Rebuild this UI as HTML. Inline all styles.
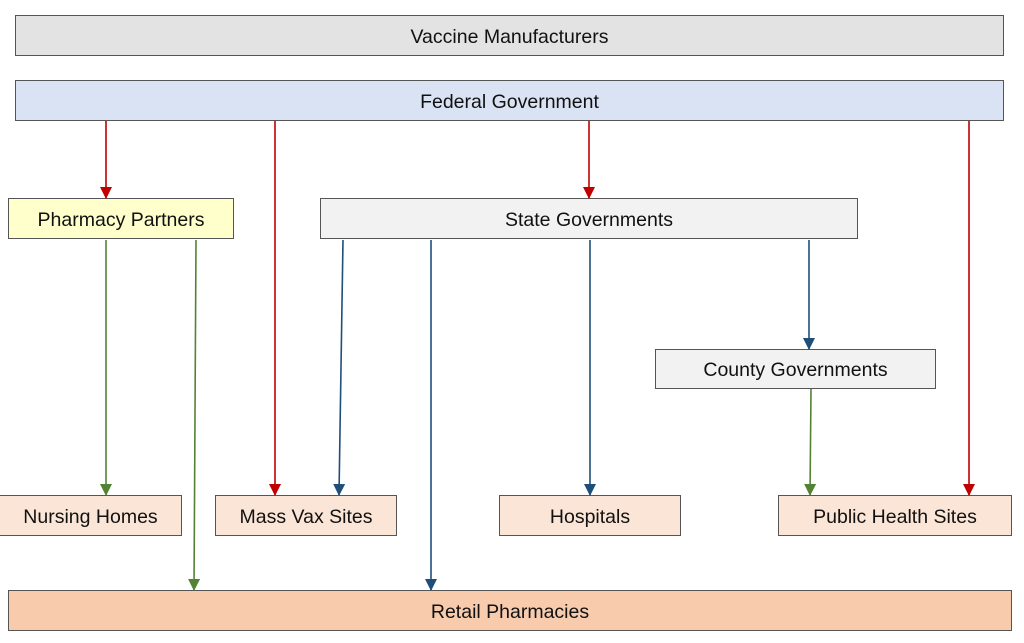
<!DOCTYPE html>
<html><head><meta charset="utf-8"><style>
body{margin:0;background:#fff;width:1024px;height:643px;overflow:hidden;position:relative;font-family:"Liberation Sans",sans-serif}
.b{position:absolute;box-sizing:border-box;border:1.3px solid #555;display:flex;align-items:center;justify-content:center;font-size:19.5px;color:#111;padding-top:3px}
svg{position:absolute;left:0;top:0}
</style></head><body>
<div class="b" style="left:15px;top:15px;width:989px;height:41px;background:#e3e3e3">Vaccine Manufacturers</div>
<div class="b" style="left:15px;top:80px;width:989px;height:41px;background:#dae3f3">Federal Government</div>
<div class="b" style="left:8px;top:198px;width:226px;height:41px;background:#ffffcc">Pharmacy Partners</div>
<div class="b" style="left:320px;top:198px;width:538px;height:41px;background:#f2f2f2">State Governments</div>
<div class="b" style="left:655px;top:349px;width:281px;height:40px;background:#f2f2f2">County Governments</div>
<div class="b" style="left:-1px;top:495px;width:183px;height:41px;background:#fbe5d6">Nursing Homes</div>
<div class="b" style="left:215px;top:495px;width:182px;height:41px;background:#fbe5d6">Mass Vax Sites</div>
<div class="b" style="left:499px;top:495px;width:182px;height:41px;background:#fbe5d6">Hospitals</div>
<div class="b" style="left:778px;top:495px;width:234px;height:41px;background:#fbe5d6">Public Health Sites</div>
<div class="b" style="left:8px;top:590px;width:1004px;height:41px;background:#f8cbad">Retail Pharmacies</div>
<svg width="1024" height="643">
<defs>
<marker id="r" markerWidth="12" markerHeight="12" refX="11" refY="6" orient="auto" markerUnits="userSpaceOnUse"><path d="M0,0 L12,6 L0,12z" fill="#c00000"/></marker>
<marker id="g" markerWidth="12" markerHeight="12" refX="11" refY="6" orient="auto" markerUnits="userSpaceOnUse"><path d="M0,0 L12,6 L0,12z" fill="#548235"/></marker>
<marker id="u" markerWidth="12" markerHeight="12" refX="11" refY="6" orient="auto" markerUnits="userSpaceOnUse"><path d="M0,0 L12,6 L0,12z" fill="#1f4e79"/></marker>
</defs>
<g stroke="#c00000" stroke-width="1.6" marker-end="url(#r)">
<line x1="106" y1="121" x2="106" y2="198"/>
<line x1="275" y1="121" x2="275" y2="495"/>
<line x1="589" y1="121" x2="589" y2="198"/>
<line x1="969" y1="121" x2="969" y2="495"/>
</g>
<g stroke="#548235" stroke-width="1.6" marker-end="url(#g)">
<line x1="106" y1="240" x2="106" y2="495"/>
<line x1="196" y1="240" x2="194" y2="590"/>
<line x1="811" y1="389" x2="810" y2="495"/>
</g>
<g stroke="#1f4e79" stroke-width="1.6" marker-end="url(#u)">
<line x1="343" y1="240" x2="339" y2="495"/>
<line x1="431" y1="240" x2="431" y2="590"/>
<line x1="590" y1="240" x2="590" y2="495"/>
<line x1="809" y1="240" x2="809" y2="349"/>
</g>
</svg>
</body></html>
